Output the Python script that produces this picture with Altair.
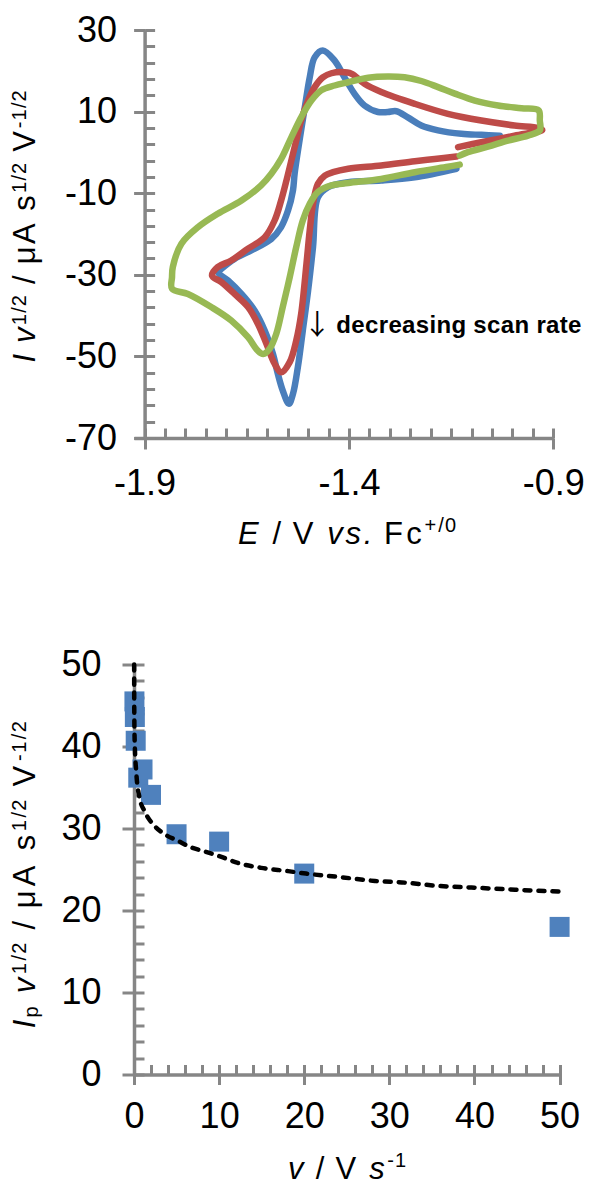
import altair as alt
import pandas as pd

FONT = "Liberation Sans"
AXC = "#868686"
BLUE, RED, GREEN = "#4a7ebb", "#be4b48", "#98b954"
SQ = "#4f81bd"

# ---------------- CV data (E / V vs Fc+/0 ; I v^-1/2) ----------------
blue_E = [-1.137, -1.239, -1.321, -1.402, -1.451, -1.476, -1.488, -1.500, -1.513, -1.525,
          -1.537, -1.547, -1.562, -1.574, -1.586, -1.606, -1.631, -1.663, -1.696, -1.721,
          -1.712, -1.680, -1.639, -1.590, -1.566, -1.549, -1.537, -1.533, -1.521, -1.508,
          -1.496, -1.484, -1.464, -1.435, -1.411, -1.386, -1.362, -1.329, -1.305, -1.284,
          -1.256, -1.223, -1.182, -1.125, -1.076, -1.031]
blue_I = [-4.0, -6.1, -6.9, -7.3, -8.5, -11.0, -23.2, -33.9, -43.7, -52.6,
          -59.2, -61.6, -58.4, -54.3, -49.4, -43.7, -38.75, -34.7, -31.4, -29.35,
          -28.5, -26.1, -24.0, -21.2, -18.3, -14.2, -9.3, -5.25, 2.9, 11.1,
          18.4, 23.3, 25.0, 22.5, 18.4, 14.3, 11.5, 9.9, 9.9, 10.1,
          8.6, 6.6, 5.4, 4.55, 4.3, 4.1]

red_E = [-1.137, -1.190, -1.239, -1.321, -1.402, -1.439, -1.459, -1.476, -1.488, -1.496,
         -1.504, -1.517, -1.529, -1.545, -1.566, -1.582, -1.602, -1.623, -1.647, -1.680,
         -1.712, -1.735, -1.721, -1.688, -1.647, -1.606, -1.582, -1.566, -1.553, -1.541,
         -1.529, -1.517, -1.500, -1.484, -1.464, -1.443, -1.419, -1.394, -1.362, -1.321,
         -1.239, -1.158, -1.076, -0.995, -0.937, -0.927, -0.995, -1.076, -1.133]
red_I = [-1.0, -1.6, -2.15, -3.2, -4.0, -4.85, -5.7, -7.7, -12.6, -19.1,
         -27.3, -39.6, -46.1, -51.4, -53.9, -51.8, -46.9, -42.0, -37.9, -34.7,
         -31.8, -30.2, -28.1, -26.5, -23.6, -20.8, -16.7, -11.8, -6.9, -2.0,
         2.9, 7.8, 12.7, 16.0, 18.4, 19.4, 19.7, 19.3, 16.8, 14.8,
         11.9, 9.45, 7.8, 6.6, 6.0, 5.5, 4.1, 2.5, 1.3]

green_E = [-1.129, -1.158, -1.239, -1.321, -1.402, -1.443, -1.476, -1.496, -1.513, -1.529,
           -1.545, -1.562, -1.578, -1.594, -1.610, -1.623, -1.647, -1.688, -1.737, -1.794,
           -1.833, -1.833, -1.831, -1.810, -1.769, -1.721, -1.663, -1.615, -1.590, -1.566,
           -1.541, -1.517, -1.492, -1.468, -1.435, -1.402, -1.353, -1.305, -1.264, -1.223,
           -1.182, -1.141, -1.092, -1.035, -0.978, -0.936, -0.933, -0.933, -0.962, -1.011,
           -1.060, -1.109, -1.129]
green_I = [-3.0, -3.5, -4.85, -6.5, -7.5, -8.1, -9.7, -12.6, -16.7, -23.2,
           -30.6, -37.9, -44.5, -48.1, -49.4, -48.6, -45.3, -41.2, -37.9, -34.7,
           -33.4, -30.6, -28.1, -22.4, -18.3, -15.05, -11.8, -8.1, -5.25, -1.6,
           3.7, 8.6, 12.7, 15.2, 16.4, 17.2, 18.3, 18.6, 18.4, 17.5,
           16.0, 14.4, 12.7, 11.5, 10.8, 10.3, 7.8, 5.4, 4.1, 2.9,
           1.4, 0.06, -0.8]

# ---------------- Peak current vs scan rate ----------------
scan_v = [0.05, 0.1, 0.2, 0.5, 1, 2, 5, 10, 20, 50]
peak_I = [45.5, 43.6, 40.7, 36.2, 37.2, 34.1, 29.3, 28.4, 24.5, 18.0]
fit_v = [0.02, 0.03, 0.08, 0.27, 0.66, 1.25, 2.43, 3.6, 5.16, 6.7, 8.3, 10.1, 12.2,
         14.95, 18.1, 20.2, 24.0, 28.3, 31.8, 35.7, 39.6, 43.5, 47.5, 50.2]
fit_I = [50.0, 44.7, 40.6, 36.8, 33.7, 32.1, 30.3, 29.3, 28.5, 27.7, 27.2, 26.6, 25.8,
         25.2, 24.8, 24.5, 24.1, 23.6, 23.4, 23.0, 22.8, 22.6, 22.4, 22.3]

# ---------------- tick values ----------------
top_x_major = [-1.9, -1.4, -0.9]
top_x_ticks = [-1.9, -1.85, -1.8, -1.75, -1.7, -1.65, -1.6, -1.55, -1.5, -1.45, -1.4,
               -1.35, -1.3, -1.25, -1.2, -1.15, -1.1, -1.05, -1.0, -0.95, -0.9]
top_y_major = [-70, -50, -30, -10, 10, 30]
top_y_ticks = [-70, -66, -62, -58, -54, -50, -46, -42, -38, -34, -30, -26, -22, -18, -14,
               -10, -6, -2, 2, 6, 10, 14, 18, 22, 26, 30]
bot_major = [0, 10, 20, 30, 40, 50]
bot_ticks = [0, 2, 4, 6, 8, 10, 12, 14, 16, 18, 20, 22, 24, 26, 28, 30, 32, 34, 36, 38,
             40, 42, 44, 46, 48, 50]

# ---------------- geometry ----------------
W1, H1 = 419.3, 408
W2, H2 = 425.6, 410
YOFF = 10.6  # top y axis sits inside the shared left edge

top_xs = alt.Scale(domain=[-1.926, -0.9], nice=False, zero=False)
top_ys = alt.Scale(domain=[-70, 30], nice=False, zero=False)
bot_xs = alt.Scale(domain=[0, 50], nice=False, zero=False)
bot_ys = alt.Scale(domain=[0, 50], nice=False, zero=False)

MINUS = "replace(datum.label, '\u2212', '-')"
LBL = dict(labelFont=FONT, labelFontSize=36, labelColor="black", labelFlush=False,
           labelOverlap=False)
TK = dict(tickColor=AXC, tickWidth=3, grid=False, title=None)


def axis_main(orient, values, size, pad, offset=0, fmt=None, expr=None):
    kw = dict(orient=orient, values=values, domain=True, domainColor=AXC, domainWidth=3.5,
              ticks=True, tickSize=size, labelPadding=pad, offset=offset, **LBL, **TK)
    if fmt:
        kw["format"] = fmt
    if expr:
        kw["labelExpr"] = expr
    return alt.Axis(**kw)


def axis_inner(orient, values, offset):
    return alt.Axis(orient=orient, values=values, domain=False, ticks=True, tickSize=10,
                    labels=False, offset=offset, **TK)


# ---------------- rich text helpers ----------------
REG = {' ': 278, '/': 278, '+': 584, '-': 333, '.': 278, '0': 556, '1': 556, '2': 556,
       'A': 667, 'E': 667, 'F': 611, 'I': 278, 'V': 667, 'c': 500, 'p': 556, 's': 500,
       'v': 500, 'μ': 576}
BOLD = {' ': 278, 'a': 556, 'c': 556, 'd': 611, 'e': 556, 'g': 611, 'i': 278, 'n': 611,
        'r': 389, 's': 556, 't': 333}
one = pd.DataFrame({"k": [0]})


def glyph(ch, px, py, size, italic=False, bold=False, angle=0, font=FONT, align="left"):
    kw = dict(font=font, fontSize=size, align=align, baseline="alphabetic", color="black")
    if italic:
        kw["fontStyle"] = "italic"
    if bold:
        kw["fontWeight"] = "bold"
    if angle:
        kw["angle"] = angle
    return alt.Chart(one).mark_text(**kw).encode(
        x=alt.value(px), y=alt.value(py), text=alt.value(ch))


def rich(pieces, start, base, length, vertical=False, bold=False):
    """Letter-spaced text: pieces are (text, size, italic, shift)."""
    table = BOLD if bold else REG
    items, pos = [], 0.0
    for text, size, italic, shift in pieces:
        for ch in text:
            w = table.get(ch, 556) * size / 1000
            items.append((ch, size, italic, shift, pos, w))
            pos += w
    last = items[-1]
    k = (length - last[5]) / last[4]
    out = []
    for ch, size, italic, shift, p, w in items:
        if ch == ' ':
            continue
        if vertical:
            out.append(glyph(ch, base - shift, start - p * k, size, italic, bold, 270))
        else:
            out.append(glyph(ch, start + p * k, base - shift, size, italic, bold))
    return out


T, S = 31, 20  # title size, superscript size
RY = 9         # superscript raise in rotated titles
RX = 12        # superscript raise in horizontal titles

ytitle_top = [("I", T, True, 0), (" ", T, False, 0), ("v", T, True, 0), ("1/2", S, False, RY),
              (" / μA s", T, False, 0), ("1/2", S, False, RY), (" V", T, False, 0),
              ("-1/2", S, False, RY)]
ytitle_bot = [("I", T, True, 0), ("p", S, False, -3), (" ", T, False, 0), ("v", T, True, 0),
              ("1/2", S, False, RY), (" / μA s", T, False, 0), ("1/2", S, False, RY),
              (" V", T, False, 0), ("-1/2", S, False, RY)]
xtitle_top = [("E", T, True, 0), (" / V ", T, False, 0), ("vs.", T, True, 0),
              (" Fc", T, False, 0), ("+/0", S, False, RX)]
xtitle_bot = [("v", T, True, 0), (" / V ", T, False, 0), ("s", T, True, 0),
              ("-1", S, False, RX)]
note = [("decreasing scan rate", 24, False, 0)]

# ---------------- top panel ----------------
def cv_line(E, I, color, ax=None, ay=None):
    df = pd.DataFrame({"E": E, "I": I, "idx": list(range(len(E)))})
    return alt.Chart(df).mark_line(color=color, strokeWidth=6.5, strokeCap="round",
                                   strokeJoin="round", interpolate="catmull-rom").encode(
        x=alt.X("E:Q", scale=top_xs, axis=ax),
        y=alt.Y("I:Q", scale=top_ys, axis=ay),
        order="idx:Q")


top_inner = alt.Chart(pd.DataFrame({"E": [-1.5], "I": [0]})).mark_point(opacity=0).encode(
    x=alt.X("E:Q", scale=top_xs, axis=axis_inner("bottom", top_x_ticks, -10)),
    y=alt.Y("I:Q", scale=top_ys, axis=axis_inner("left", top_y_ticks, -YOFF - 10)))

top_layers = [
    top_inner,
    cv_line(blue_E, blue_I, BLUE,
            axis_main("bottom", top_x_major, 11, 17, fmt=".1f", expr=MINUS),
            axis_main("left", top_y_major, 11, 17, offset=-YOFF, fmt="d", expr=MINUS)),
    cv_line(red_E, red_I, RED),
    cv_line(green_E, green_I, GREEN),
]
top_layers += rich(ytitle_top, 332.5, -98.7, 272, vertical=True)
top_layers += rich(xtitle_top, 104.0, 514.0, 218)
top_layers.append(glyph("↓", 183.3, 305, 28, font="Noto Sans CJK JP", align="center"))
top_layers += rich(note, 202.3, 302.5, 245, bold=True)

top = alt.layer(*top_layers).resolve_axis(x="independent", y="independent").properties(
    width=W1, height=H1)

# ---------------- bottom panel ----------------
pts = pd.DataFrame({"v": scan_v, "Ip": peak_I})
fit = pd.DataFrame({"v": fit_v, "Ip": fit_I})

bot_inner = alt.Chart(pts).mark_point(opacity=0).encode(
    x=alt.X("v:Q", scale=bot_xs, axis=axis_inner("bottom", bot_ticks, -10)),
    y=alt.Y("Ip:Q", scale=bot_ys, axis=axis_inner("left", bot_ticks, -10)))

squares = alt.Chart(pts).mark_square(size=400, color=SQ, opacity=1).encode(
    x=alt.X("v:Q", scale=bot_xs, axis=axis_main("bottom", bot_major, 10, 15, fmt="d")),
    y=alt.Y("Ip:Q", scale=bot_ys, axis=axis_main("left", bot_major, 12, 21, fmt="d")))

fit_line = alt.Chart(fit).mark_line(color="black", strokeWidth=4.5, strokeDash=[6, 8],
                                    strokeCap="round", interpolate="monotone").encode(
    x=alt.X("v:Q", scale=bot_xs, axis=None),
    y=alt.Y("Ip:Q", scale=bot_ys, axis=None))

bot_layers = [bot_inner, squares, fit_line]
bot_layers += rich(ytitle_bot, 363.7, -98.7, 307, vertical=True)
bot_layers += rich(xtitle_bot, 154, 514.0, 118)

bottom = alt.layer(*bot_layers).resolve_axis(x="independent", y="independent").properties(
    width=W2, height=H2)

chart = alt.vconcat(top, bottom, spacing=96.5).properties(
    padding={"left": 2, "top": 4, "right": 0, "bottom": 0},
    background="white").configure_view(stroke=None)

chart.save("out.html", embed_options={"renderer": "svg", "actions": False})
